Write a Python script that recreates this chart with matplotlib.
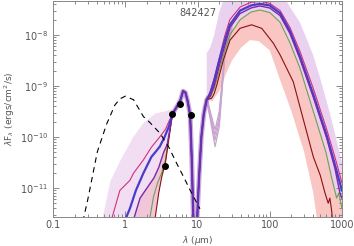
import numpy as np
import matplotlib
matplotlib.use('Agg')
import matplotlib.pyplot as plt
from matplotlib.ticker import (LogLocator, NullFormatter, FixedLocator, FixedFormatter,
                               LogFormatterSciNotation)

source_id = "842427"

# observed photometry (IRAC)
obs_wav = [3.6, 4.5, 5.8, 8.0]
obs_flux = [2.75e-11, 2.8e-10, 4.4e-10, 2.7e-10]

# stellar photosphere (log10 lambda F_lambda)
phot_wav = [0.24, 0.3, 0.41, 0.55, 0.72, 0.85, 1.0, 1.3, 1.78, 2.2, 3.03, 4.0, 5.15, 6.5, 7.87, 10.8]
phot_logf = [-11.85, -11.25, -10.29, -9.75, -9.37, -9.25, -9.2, -9.27, -9.6, -9.72,
             -9.93, -10.2, -10.52, -10.8, -11.04, -11.41]

# mid-IR part shared by all models (silicate absorption)
mir_wav = [4.5, 5.2, 5.8, 6.3, 6.8, 7.3, 7.9, 8.3, 8.75, 9.3, 9.8, 10.5, 11.3, 12.2, 13.4]
mir_logf = [-9.55, -9.4, -9.28, -9.1, -9.13, -9.3, -9.57, -10.4, -11.6, -12.3, -11.7,
            -10.8, -10.0, -9.55, -9.27]

# individual models: near-IR and far-IR parts
red_nir_wav = [2.5, 2.6, 2.9, 3.2, 3.6, 4.0]
red_nir_logf = [-12.0, -11.57, -11.1, -10.78, -10.5, -10.05]
red_fir_wav = [15.7, 17, 18.5, 22.8, 28.2, 38.7, 56, 77.5, 112, 139, 212, 262, 401, 500,
               582, 645, 680, 720, 760]
red_fir_logf = [-9.24, -9.15, -8.98, -8.49, -8.1, -7.87, -7.8, -7.87, -8.16, -8.39, -8.92,
                -9.41, -10.39, -10.75, -11.1, -11.3, -11.2, -11.45, -11.8]

green_nir_wav = [2.15, 2.2, 2.45, 2.8, 3.2, 3.6, 4.0]
green_nir_logf = [-12.0, -11.57, -11.18, -10.9, -10.7, -10.45, -10.0]
green_fir_wav = [15, 17, 20, 24, 28, 39, 55, 73, 100, 139, 190, 262, 401, 600, 720, 843, 900, 1000]
green_fir_logf = [-9.22, -9.05, -8.7, -8.3, -8.0, -7.7, -7.55, -7.51, -7.56, -7.75, -8.15,
                  -8.65, -9.5, -10.3, -10.8, -11.2, -11.1, -11.4]

purple_nir_wav = [1.25, 1.6, 2.0, 2.5, 2.9, 3.4, 3.8]
purple_nir_logf = [-11.7, -11.2, -11.0, -10.8, -10.6, -10.3, -10.15]
purple_fir_wav = [15, 17, 20, 24, 28.2, 38.7, 55, 73, 100, 139, 190, 262, 401, 614, 800, 937, 1000]
purple_fir_logf = [-9.2, -9.0, -8.6, -8.2, -7.85, -7.58, -7.47, -7.43, -7.47, -7.62, -7.97,
                   -8.47, -9.22, -10.02, -10.62, -11.1, -11.2]

blue_nir_wav = [0.95, 1.16, 1.4, 1.78, 2.3, 2.6, 3.0, 3.5, 4.0]
blue_nir_logf = [-11.7, -11.4, -11.05, -10.71, -10.39, -10.3, -10.19, -10.0, -9.8]
blue_fir_wav = [15, 17, 20, 24, 28, 39, 55, 73, 100, 139, 190, 262, 401, 614, 800, 1000]
blue_fir_logf = [-9.15, -8.9, -8.5, -8.1, -7.8, -7.52, -7.42, -7.39, -7.42, -7.57, -7.92,
                 -8.42, -9.17, -9.97, -10.55, -11.05]

pink_nir_wav = [0.65, 0.84, 1.16, 1.3, 1.78, 2.3, 3.0, 3.6, 4.0]
pink_nir_logf = [-11.6, -11.05, -10.85, -10.71, -10.45, -10.2, -10.0, -9.85, -9.7]
pink_fir_wav = [15, 17, 20, 24, 28, 39, 55, 75, 100, 139, 190, 262, 401, 614, 800, 1000]
pink_fir_logf = [-9.1, -8.85, -8.45, -8.0, -7.7, -7.45, -7.36, -7.34, -7.38, -7.52, -7.85,
                 -8.32, -9.05, -9.85, -10.4, -10.9]

# envelopes of the faint model bundles
nir_hi_wav = [0.45, 0.5, 0.62, 0.85, 1.29, 1.78, 2.6, 3.5, 4.5]
nir_hi_logf = [-12.0, -11.5, -10.87, -10.47, -10.0, -9.73, -9.54, -9.5, -9.45]
fir_lo_wav = [13.4, 16, 20, 25, 30, 40, 53, 70, 100, 139, 200, 300, 401, 460]
fir_lo_logf = [-9.27, -9.3, -9.1, -8.75, -8.5, -8.25, -8.1, -8.12, -8.3, -8.88, -9.5,
               -10.3, -11.1, -11.7]
fir_hi_wav = [13.4, 15, 17, 20, 23, 30, 50, 100, 150, 200, 262, 400, 500, 700, 1000]
fir_hi_logf = [-8.35, -8.25, -8.0, -7.55, -7.3, -7.1, -7.0, -7.0, -7.2, -7.5, -7.75, -8.4,
               -8.85, -9.6, -10.5]

# models with a strong 18 micron silicate dip
sil_wav = [12.2, 13.4, 15, 17.5, 20, 24, 30]
sil_a = [-9.45, -9.2, -9.5, -9.86, -9.5, -8.3, -7.8]
sil_b = [-9.45, -9.2, -9.55, -9.96, -9.6, -8.35, -7.85]
sil_c = [-9.45, -9.25, -9.6, -10.06, -9.7, -8.4, -7.9]
sil_d = [-9.45, -9.3, -9.65, -10.19, -9.8, -8.3, -7.8]

xticks = [0.1, 1, 10, 100, 1000]
xticklabels = ["0.1", "1", "10", "100", "1000"]
yticks = [1e-11, 1e-10, 1e-9, 1e-8]


def full(nw, nf, fw, ff):
    w = np.concatenate([nw, mir_wav, fw])
    f = np.concatenate([nf, mir_logf, ff])
    return w, 10.0 ** f


fig = plt.figure(figsize=(3.54, 2.46), dpi=100)
ax = fig.add_axes([0.150, 0.118, 0.816, 0.878])
ax.set_xscale('log')
ax.set_yscale('log')

# bundles
poly_w = np.concatenate([red_nir_wav, [4.5], nir_hi_wav[::-1]])
poly_f = np.concatenate([red_nir_logf, [-9.55], nir_hi_logf[::-1]])
ax.fill(poly_w, 10.0 ** poly_f, color='#ecd0ee', alpha=0.7, lw=0)
poly_w = np.concatenate([red_nir_wav, [4.5], [4.5], purple_nir_wav[::-1], [1.2]])
poly_f = np.concatenate([red_nir_logf, [-9.55], [-9.5], purple_nir_logf[::-1], [-12.0]])
ax.fill(poly_w, 10.0 ** poly_f, color='#f2b4c4', alpha=0.55, lw=0)

poly_w = np.concatenate([fir_lo_wav, [1000, 1000], green_fir_wav[::-1], [13.4]])
poly_f = np.concatenate([fir_lo_logf, [-12.0, -11.4], green_fir_logf[::-1], [-9.27]])
ax.fill(poly_w, 10.0 ** poly_f, color='#f8b8b4', alpha=0.8, lw=0)
poly_w = np.concatenate([[13.4], green_fir_wav, fir_hi_wav[::-1]])
poly_f = np.concatenate([[-9.27], green_fir_logf, fir_hi_logf[::-1]])
ax.fill(poly_w, 10.0 ** poly_f, color='#e4c2ea', alpha=0.75, lw=0)

for s in [sil_a, sil_b, sil_c, sil_d]:
    ax.plot(sil_wav, 10.0 ** np.array(s), color='#c9a4cf', lw=0.9)

ax.plot(mir_wav, 10.0 ** np.array(mir_logf), color='#b98ccc', lw=3.5, alpha=0.7,
        solid_capstyle='round')

# individual model lines
w, f = full(pink_nir_wav, pink_nir_logf, pink_fir_wav, pink_fir_logf)
ax.plot(w, f, color='#d0307a', lw=0.8)
w, f = full(green_nir_wav, green_nir_logf, green_fir_wav, green_fir_logf)
ax.plot(w, f, color='#6fa050', lw=0.8)
w, f = full(red_nir_wav, red_nir_logf, red_fir_wav, red_fir_logf)
ax.plot(w, f, color='#8a1010', lw=0.8)
w, f = full(blue_nir_wav, blue_nir_logf, blue_fir_wav, blue_fir_logf)
ax.plot(w, f, color='#4a3cc8', lw=1.6)
w, f = full(purple_nir_wav, purple_nir_logf, purple_fir_wav, purple_fir_logf)
ax.plot(w, f, color='#7a2aa8', lw=1.0)

# photosphere
ax.plot(phot_wav, 10.0 ** np.array(phot_logf), color='black', lw=0.8,
        dashes=(5, 4))

ax.plot(obs_wav, obs_flux, 'o', color='black', ms=4)

ax.set_xlim(0.1, 1000)
ax.set_ylim(10 ** -11.57, 10 ** -7.333)

ax.xaxis.set_major_locator(FixedLocator(xticks))
ax.xaxis.set_major_formatter(FixedFormatter(xticklabels))
ax.xaxis.set_minor_locator(LogLocator(base=10, subs=np.arange(2, 10)))
ax.xaxis.set_minor_formatter(NullFormatter())
ax.yaxis.set_major_locator(FixedLocator(yticks))
ax.yaxis.set_major_formatter(LogFormatterSciNotation())
ax.yaxis.set_minor_locator(LogLocator(base=10, subs=np.arange(2, 10), numticks=10))
ax.yaxis.set_minor_formatter(NullFormatter())
ax.xaxis.get_offset_text().set_visible(False)
ax.yaxis.get_offset_text().set_visible(False)

ax.tick_params(which='both', direction='in', top=True, right=True, colors='#777777',
               labelcolor='#555555', labelsize=7, width=0.6)
ax.tick_params(which='major', length=4)
ax.tick_params(which='minor', length=2)
ax.tick_params(axis='x', which='major', pad=2.5)
for sp in ax.spines.values():
    sp.set_color('#888888')
    sp.set_linewidth(0.7)

ax.set_xlabel(r'$\lambda$ ($\mu$m)', fontsize=6.5, color='#555555')
ax.xaxis.set_label_coords(0.5, -0.078)
ax.set_ylabel(r'$\lambda$F$_\lambda$ (ergs/cm$^2$/s)', fontsize=6.5, color='#555555')
ax.yaxis.set_label_coords(-0.125, 0.5)
ax.text(0.50, 0.945, source_id, transform=ax.transAxes, ha='center', va='center',
        fontsize=7, color='#555555')

fig.savefig('out.png', dpi=100)
